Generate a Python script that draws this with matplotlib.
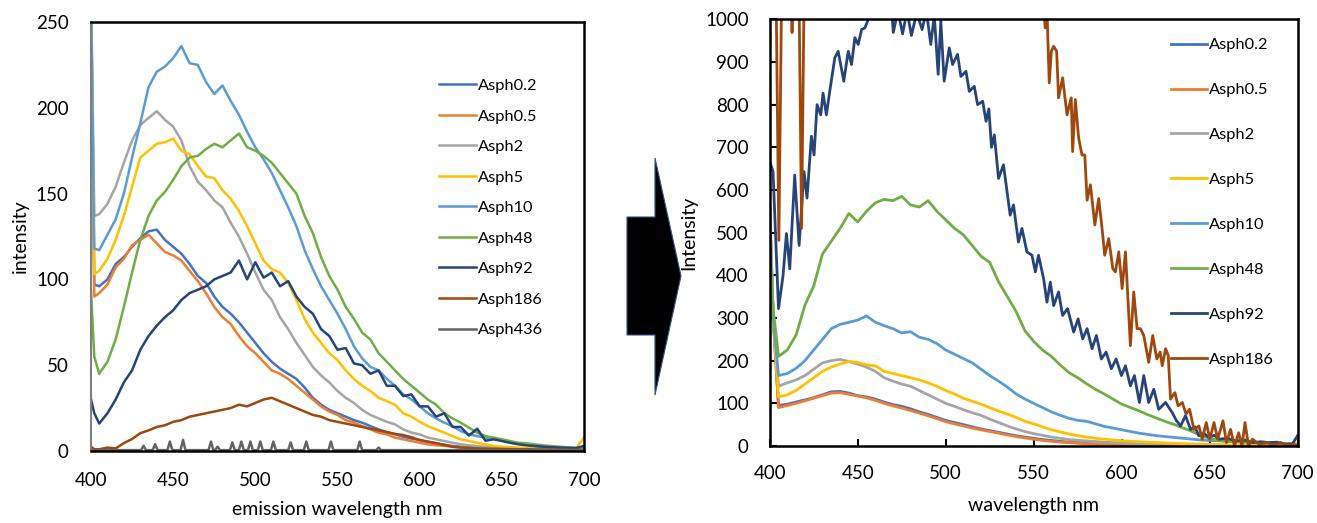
import numpy as np
import matplotlib
matplotlib.use("Agg")
import matplotlib.pyplot as plt
from matplotlib.patches import Polygon

plt.rcParams['font.family'] = ['Lato', 'DejaVu Sans']

# ---------------- data ----------------
wl = [400, 402, 405] + list(range(410, 701, 5))

series_names_left = ["Asph0.2", "Asph0.5", "Asph2", "Asph5", "Asph10",
                     "Asph48", "Asph92", "Asph186", "Asph436"]
series_names_right = ["Asph0.2", "Asph0.5", "Asph2", "Asph5", "Asph10",
                      "Asph48", "Asph92", "Asph186"]
colors = {"Asph0.2": "#4472C4", "Asph0.5": "#ED7D31", "Asph2": "#A5A5A5",
          "Asph5": "#FFC000", "Asph10": "#5B9BD5", "Asph48": "#70AD47",
          "Asph92": "#264478", "Asph186": "#9E480E", "Asph436": "#636363"}

# left panel (emission spectra, 0-250)
L_asph02 = [270, 97, 96,
            100, 109, 113, 119, 124, 128, 129,
            123, 119, 115, 109, 102, 98, 90, 84, 80, 75, 69, 63,
            57, 52, 48, 45, 42, 37, 31, 27, 24, 22, 20, 18,
            16.5, 14.5, 12.6, 11, 9.7, 8.3, 7.2, 6.4, 5.2, 4.5, 3.7, 2.9,
            2.5, 2.2, 2, 1.8, 1.6, 1.5, 1.4, 1.3, 1.2, 1.1, 1.0, 1.0,
            0.9, 0.9, 0.8, 0.8]
L_asph05 = [270, 90, 92,
            97, 107, 112, 120, 123, 126, 121,
            116, 114, 111, 105, 99, 92, 84, 78, 74, 67, 61, 57,
            52, 47, 45, 42, 38, 34, 30, 26, 23, 21, 18, 16.5,
            14.5, 12.6, 10.7, 9.7, 7.8, 6.8, 5.8, 4.8, 3.9, 3.3, 3, 2.5,
            2.2, 2, 1.8, 1.6, 1.4, 1.3, 1.2, 1.1, 1.0, 1.0, 0.9, 0.9,
            0.8, 0.8, 0.7, 0.7]
L_asph2 = [270, 137, 138,
           144, 154, 168, 181, 190, 194, 198,
           193, 189, 181, 166, 157, 152, 146, 142, 133, 125, 115, 104,
           94, 88, 78, 71, 63, 56, 49, 44, 40, 35, 31, 28,
           24, 21, 19, 17, 15.5, 12.6, 10.7, 9.7, 7.8, 6.8, 5.8, 4.8,
           3.9, 3.3, 2.8, 2.5, 2.2, 2, 1.8, 1.6, 1.5, 1.4, 1.3, 1.2,
           1.1, 1.0, 1.0, 0.9]
L_asph5 = [270, 103, 105,
           112, 123, 137, 154, 171, 175, 179,
           180, 182, 175, 173, 166, 160, 159, 152, 147, 140, 131, 121,
           111, 106, 104, 98, 88, 77, 69, 63, 57, 53, 47, 42,
           38, 35, 31, 29, 27, 22, 20, 17, 14.5, 12.6, 10.7, 8.7,
           6.8, 5.8, 4.8, 3.9, 2.9, 2.5, 2.2, 2, 1.8, 1.6, 1.5, 1.4,
           1.3, 1.3, 1.2, 8]
L_asph10 = [270, 118, 117,
            126, 135, 150, 171, 191, 212, 221,
            224, 229, 236, 226, 225, 215, 208, 213, 204, 196, 186, 177,
            170, 162, 152, 142, 131, 117, 106, 96, 88, 80, 71, 61,
            54, 49, 47, 42, 38, 33, 30, 26, 22, 19, 16.5, 14.5,
            11.6, 9.7, 8.7, 7.8, 7, 6.4, 5.2, 4.5, 3.7, 2.9, 2.5, 2.3,
            1.9, 1.7, 1.5, 1.3]
L_asph48 = [93, 55, 45,
            52, 65, 84, 104, 123, 137, 146,
            151, 158, 166, 171, 172, 176, 179, 177, 181, 185, 177, 175,
            172, 168, 162, 156, 150, 137, 127, 113, 102, 94, 84, 77,
            69, 65, 57, 52, 47, 42, 38, 34, 30, 27, 22, 19,
            16.5, 13.6, 10.7, 8.7, 7.8, 6.8, 5.8, 4.8, 4.5, 3.9, 3.3, 2.9,
            2.5, 2.2, 2, 1.8]
L_asph92 = [30, 22, 16,
            22, 30, 40, 47, 59, 67, 73,
            78, 82, 88, 92, 94, 96, 100, 102, 104, 111, 100, 110,
            101, 104, 96, 99, 90, 84, 80, 71, 67, 59, 60, 51,
            50, 45, 47, 38, 38, 32, 33, 26, 26, 20, 22, 14,
            14, 9, 13, 6, 6.8, 5.8, 4.8, 3.9, 3.3, 2.9, 2.5, 2.2,
            2, 1.8, 1.6, 3]
L_asph186 = [2.5, 1, 1,
             2, 1.5, 4.6, 7, 10.4, 12, 14,
             15, 17, 18, 20, 21, 22, 23, 24, 25, 27, 26, 28,
             30, 31, 29, 27, 25, 23, 21, 20, 18, 17, 16, 15,
             14, 13, 12, 11, 10, 9.3, 8, 6.4, 5.5, 4.6, 3.5, 2.5,
             2, 1.8, 1.5, 1.4, 1.3, 1.2, 1.1, 1, 1, 0.9, 0.9, 0.8,
             0.8, 0.7, 0.7, 0.6]
L436_wl = [400,
           430.5, 432, 433.5, 437.5, 439, 440.5, 446.5, 448, 449.5,
           454.5, 456, 457.5, 471.5, 473, 474.5, 475.5, 477, 478.5,
           484.5, 486, 487.5, 490, 491.5, 493, 495.5, 497, 498.5,
           501.5, 503, 504.5, 509.5, 511, 512.5, 520, 521.5, 523,
           529.5, 531, 532.5, 544.5, 546, 547.5, 562, 563.5, 565,
           573.5, 575, 576.5,
           700]
L436_val = [0.5,
            0.5, 3, 0.5, 0.5, 4, 0.5, 0.5, 5.5, 0.5,
            0.5, 6.5, 0.5, 0.5, 5.5, 0.5, 0.5, 2.5, 0.5,
            0.5, 5, 0.5, 0.5, 5.5, 0.5, 0.5, 5.5, 0.5,
            0.5, 5.5, 0.5, 0.5, 5.5, 0.5, 0.5, 5, 0.5,
            0.5, 5.5, 0.5, 0.5, 5.5, 0.5, 0.5, 5.5, 0.5,
            0.5, 2, 0.5,
            0.5]

# right panel (0-1000)
R_asph02 = [560, 300, 95,
            98, 103, 108, 113, 120, 127, 128,
            124, 118, 115, 110, 103, 97, 93, 87, 80, 74, 67, 60,
            55, 50, 45, 40, 36, 32, 28, 24, 21, 18, 15, 13,
            11, 9, 8, 6, 5, 4.5, 4, 3, 2.5, 2.2, 2, 1.8,
            1.6, 1.5, 1.4, 1.3, 1.2, 1.1, 1, 1, 1, 0.9, 0.9, 0.8,
            0.8, 0.8, 0.7, 0.7]
R_asph05 = [560, 300, 90,
            95, 100, 106, 112, 118, 124, 125,
            121, 117, 113, 107, 100, 94, 89, 83, 77, 71, 64, 57,
            52, 47, 42, 38, 34, 30, 26, 22, 19, 16, 13, 11,
            9, 8, 6.5, 5, 4, 3.5, 3, 2.5, 2, 1.8, 1.6, 1.5,
            1.4, 1.3, 1.2, 1.1, 1, 1, 0.9, 0.9, 0.8, 0.8, 0.8, 0.7,
            0.7, 0.7, 0.6, 0.6]
R_asph2 = [560, 300, 140,
           148, 155, 165, 180, 195, 200, 203,
           198, 192, 185, 175, 160, 152, 145, 140, 130, 120, 110, 100,
           93, 85, 78, 72, 63, 55, 47, 40, 34, 29, 25, 21,
           18, 15, 13.5, 12, 10.5, 9, 8, 7, 6, 5, 4.5, 4,
           3.5, 3, 2.5, 2.2, 2, 1.8, 1.6, 1.5, 1.4, 1.3, 1.2, 1.1,
           1, 1, 0.9, 0.9]
R_asph5 = [560, 300, 115,
           120, 130, 145, 160, 175, 185, 192,
           198, 196, 190, 188, 175, 170, 165, 160, 155, 148, 140, 130,
           122, 112, 105, 98, 90, 82, 75, 67, 58, 52, 45, 38,
           33, 28, 24, 21, 18, 16, 14, 12.5, 11, 10, 9, 8,
           7, 6, 5.5, 5, 4.5, 4, 3.5, 3, 2.5, 2.2, 2, 1.8,
           1.6, 1.5, 1.4, 1.3]
R_asph10 = [540, 300, 165,
            170, 182, 200, 225, 250, 275, 285,
            290, 295, 305, 290, 282, 275, 265, 268, 255, 250, 240, 225,
            215, 205, 195, 180, 165, 152, 138, 122, 110, 100, 90, 80,
            72, 65, 60, 58, 52, 46, 42, 38, 34, 30, 27, 24,
            22, 20, 18, 16, 14, 13, 12, 11, 10, 9, 8, 7,
            6, 5, 5, 4]
R_asph48 = [440, 320, 210,
            225, 260, 330, 375, 450, 480, 510,
            545, 525, 550, 570, 578, 575, 585, 565, 560, 575, 550, 530,
            510, 495, 470, 445, 430, 385, 350, 315, 270, 245, 225, 210,
            190, 172, 160, 146, 133, 122, 110, 98, 90, 82, 73, 65,
            57, 50, 42, 34, 24, 18, 13, 11, 10, 9, 8, 7,
            6, 5, 5, 4]
R92_wl = [400, 401.9, 405, 407.6, 409.5, 411.4, 414.2, 416.7, 419.5, 421.2,
          423.7, 425.2, 426.9, 429, 430.3, 432.2, 434.1, 437, 438.9, 442.1,
          444.6, 446.5, 448.4, 450.3, 452.2, 454.1, 456.4, 460, 465, 469,
          470.2, 472.8, 475.5, 478, 480.5, 483.5, 486.6, 489, 491.5, 493.5,
          495.7, 497.2, 499.1, 502, 503.9, 506.7, 508.6, 511.5, 513.4, 516.2,
          518.1, 521, 522.9, 524.5, 526, 527.6, 530, 532.8, 536.6, 538.5,
          541.3, 543.3, 546.1, 549, 550.9, 552.7, 555.6, 557.5, 559.4, 561.3,
          564.1, 566.4, 569.2, 572.7, 575.2, 577.8, 580.3, 583.1, 585.6, 588.4,
          591.1, 594.1, 596.8, 599.8, 602.1, 604.9, 607.2, 610, 612.5, 615.3,
          618.2, 621, 624.9, 628.7, 631, 633.4, 636.2, 639.1, 641.5, 643.8,
          646.5, 649.5, 652.5, 655.2, 660, 664.7, 670, 674.2, 679, 683.7,
          688, 693.2, 697, 699.8]
R92_val = [667, 643, 322, 400, 498, 415, 635, 470, 643, 581,
           726, 682, 800, 776, 827, 776, 831, 910, 925, 855,
           925, 894, 957, 941, 976, 980, 1004, 1060, 1080, 1040,
           969, 1020, 966, 1020, 962, 1015, 976, 1020, 941, 1010,
           871, 996, 855, 933, 894, 918, 866, 878, 831, 843,
           800, 808, 761, 790, 700, 729, 627, 659, 541, 565,
           478, 510, 455, 447, 408, 447, 392, 337, 384, 329,
           361, 306, 322, 267, 298, 251, 275, 228, 259, 204,
           220, 181, 204, 165, 188, 141, 165, 102, 165, 102,
           133, 86, 102, 78, 60, 47, 71, 39, 45, 24,
           30, 20, 25, 16, 18, 12, 14, 8, 10, 8,
           9, 4, 5, 24]
R186_wl = [400, 403.3, 405.2, 407.1, 412.2, 412.7, 413.2, 416.3, 418.1, 419.9,
           425, 450, 500, 540, 555, 556.1, 556.5, 557.6, 558.8, 560,
           561.3, 563, 564.1, 566.4, 568.9, 571.3, 572.1, 573.6, 575.5, 577.4,
           579, 580.3, 582.2, 584.7, 586.9, 588.8, 590.3, 592.6, 594.9, 596.4,
           598.3, 600.2, 602.1, 604.9, 606.8, 608.7, 610.6, 612.5, 615.3, 617.6,
           619.9, 621.8, 623, 624.9, 626.4, 627.7, 630.2, 632, 634.4, 636.5,
           638.5, 641, 643.8, 645.7, 648, 650, 652.4, 654.5, 657.5, 659.5,
           661.8, 664, 666.4, 668.3, 670, 672, 674.2, 678, 682.8, 686,
           690.3, 694, 697, 699.8]
R186_val = [1300, 1185, 482, 1185, 1100, 969, 1100, 1200, 510, 1200,
            1300, 1500, 1600, 1300, 1100, 1000, 980, 1010, 851, 925,
            937, 925, 816, 863, 776, 816, 690, 812, 722, 682,
            682, 576, 612, 518, 580, 510, 447, 486, 416, 408,
            455, 369, 455, 235, 361, 275, 275, 259, 196, 259,
            204, 220, 188, 228, 212, 110, 125, 94, 102, 75,
            86, 39, 47, 16, 55, 16, 55, 16, 59, 8,
            39, 0, 31, 0, 55, 0, 16, 4, 8, 1,
            8, 1, 4, 1]

left_data = {"Asph0.2": (wl, L_asph02), "Asph0.5": (wl, L_asph05),
             "Asph2": (wl, L_asph2), "Asph5": (wl, L_asph5),
             "Asph10": (wl, L_asph10), "Asph48": (wl, L_asph48),
             "Asph92": (wl, L_asph92), "Asph186": (wl, L_asph186),
             "Asph436": (L436_wl, L436_val)}
right_data = {"Asph0.2": (wl, R_asph02), "Asph0.5": (wl, R_asph05),
              "Asph2": (wl, R_asph2), "Asph5": (wl, R_asph5),
              "Asph10": (wl, R_asph10), "Asph48": (wl, R_asph48),
              "Asph92": (R92_wl, R92_val), "Asph186": (R186_wl, R186_val)}

# ---------------- figure ----------------
W, H = 1317, 523
fig = plt.figure(figsize=(W / 100, H / 100), dpi=100)


def rect(x0, y0, x1, y1):
    return [x0 / W, 1 - y1 / H, (x1 - x0) / W, (y1 - y0) / H]


def fpt(x, y):
    return (x / W, 1 - y / H)


TICK_FS = 13.5
LAB_FS = 14
LEG_FS = 11.8

# ---- left panel ----
axL = fig.add_axes(rect(91, 22, 584, 451))
for name in series_names_left:
    x, y = left_data[name]
    axL.plot(x, y, color=colors[name], lw=1.8, label=name, solid_joinstyle='round')
axL.set_xlim(400, 700)
axL.set_ylim(0, 250)
axL.set_xticks(range(400, 701, 50))
axL.set_yticks(range(0, 251, 50))
axL.tick_params(axis='both', length=0, labelsize=TICK_FS)
axL.tick_params(axis='x', pad=15)
axL.tick_params(axis='y', pad=16)
for s in ['top', 'right', 'bottom']:
    axL.spines[s].set_color('black')
    axL.spines[s].set_linewidth(1.8)
axL.spines['left'].set_color('#7F7F7F')
axL.spines['left'].set_linewidth(1.5)
axL.set_xlabel("emission wavelength nm", fontsize=LAB_FS, va='center')
axL.xaxis.set_label_coords(0.5, (451 - 510) / 429)
axL.set_ylabel("intensity", fontsize=LAB_FS, va='center')
axL.yaxis.set_label_coords((20 - 91) / 493, 0.5)
legL = axL.legend(loc='upper left', bbox_to_anchor=fpt(439, 78.5),
                  bbox_transform=fig.transFigure, frameon=False,
                  fontsize=LEG_FS, handlelength=2.26, handletextpad=0.12,
                  labelspacing=0.98, borderpad=0, borderaxespad=0)

# ---- right panel ----
axR = fig.add_axes(rect(769.7, 19.3, 1297.8, 446))
for name in series_names_right:
    x, y = right_data[name]
    axR.plot(x, y, color=colors[name], lw=2.0, label=name, solid_joinstyle='round')
axR.set_xlim(400, 700)
axR.set_ylim(0, 1000)
axR.set_xticks(range(400, 701, 50))
axR.set_yticks(range(0, 1001, 100))
axR.tick_params(axis='both', direction='in', length=5, width=1.5,
                labelsize=TICK_FS)
axR.tick_params(axis='x', pad=14)
axR.tick_params(axis='y', pad=15)
for s in axR.spines.values():
    s.set_color('black')
    s.set_linewidth(1.8)
axR.set_xlabel("wavelength nm", fontsize=LAB_FS, va='center')
axR.xaxis.set_label_coords(0.5, (446 - 506) / 426.7)
axR.set_ylabel("Intensity", fontsize=LAB_FS, va='center')
axR.yaxis.set_label_coords((688.3 - 769.7) / 528.1, 0.5)
legR = axR.legend(loc='upper left', bbox_to_anchor=fpt(1171, 38),
                  bbox_transform=fig.transFigure, frameon=False,
                  fontsize=LEG_FS, handlelength=2.2, handletextpad=0.12,
                  labelspacing=1.855, borderpad=0, borderaxespad=0)

# ---- arrow between panels ----
arrow_px = [(627, 217), (655, 217), (655, 158), (681, 276),
            (655, 395), (655, 335), (627, 335)]
arrow = Polygon([fpt(x, y) for x, y in arrow_px], closed=True,
                transform=fig.transFigure, facecolor='black',
                edgecolor='#2F528F', lw=0.8, zorder=0)
fig.patches.append(arrow)

fig.savefig("out.png", dpi=100)
